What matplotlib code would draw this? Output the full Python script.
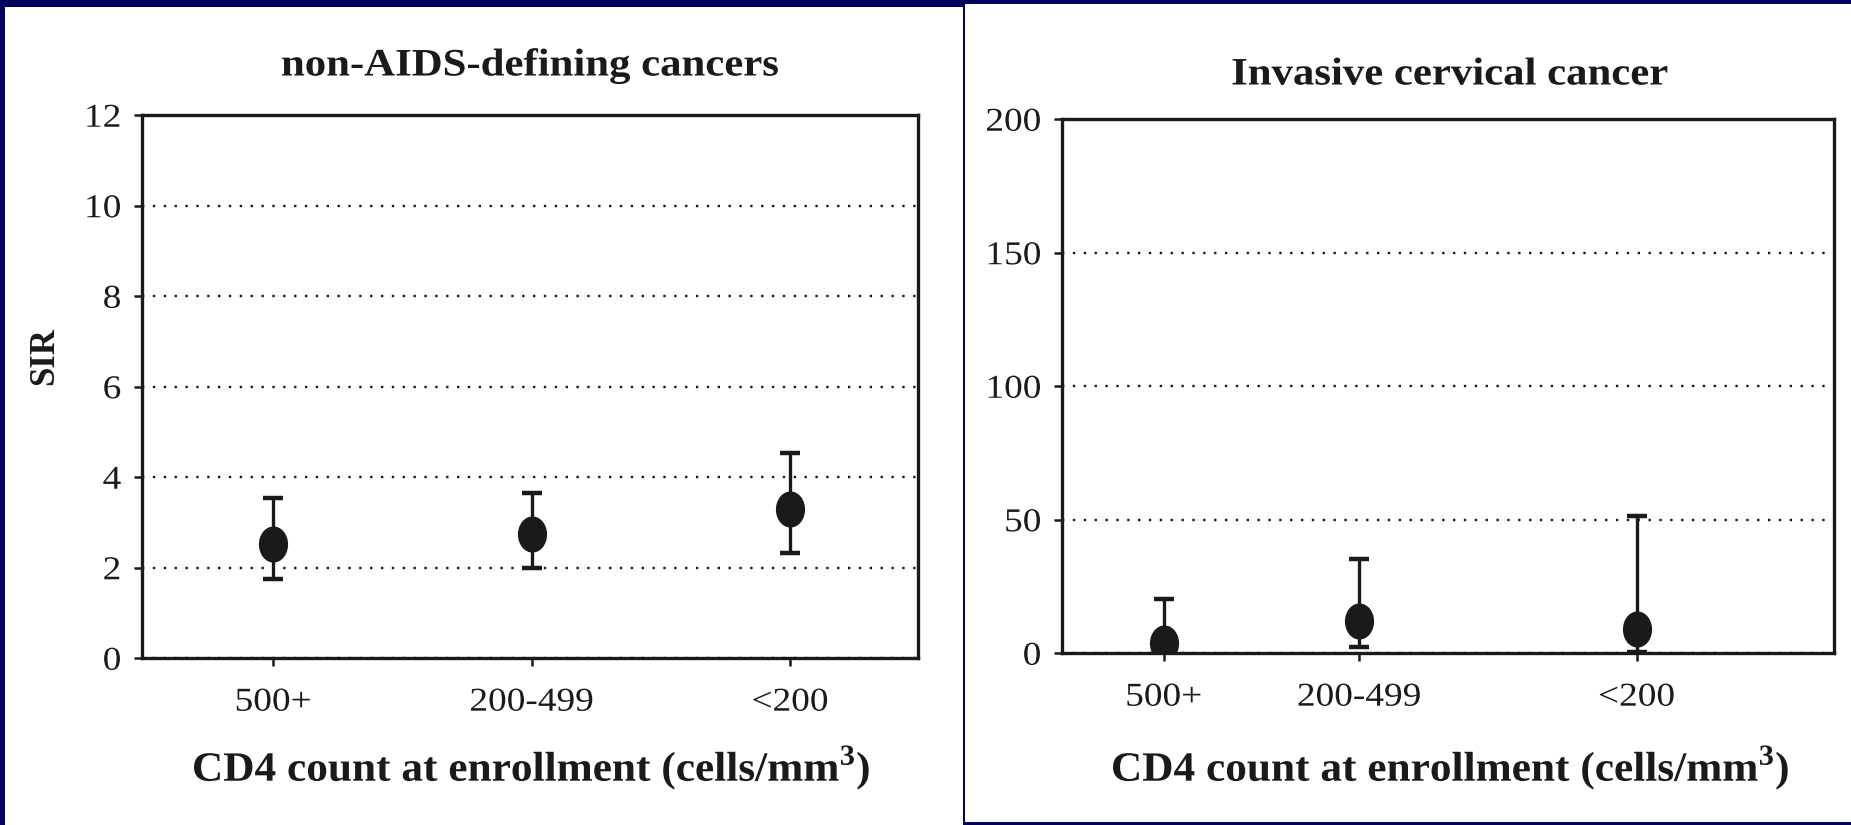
import numpy as np
import matplotlib
matplotlib.use('Agg')
import matplotlib.pyplot as plt
import matplotlib.patheffects as pe
from matplotlib.patches import Rectangle
from matplotlib.path import Path
from matplotlib.transforms import Affine2D

# -----------------------------------------------------------------------------
# Datos
# -----------------------------------------------------------------------------
categorias = ['500+', '200-499', '<200']

# non-AIDS-defining cancers
sir_nadc = [2.53, 2.73, 3.29]
inf_nadc = [1.74, 2.00, 2.31]
sup_nadc = [3.53, 3.64, 4.54]

# Invasive cervical cancer
sir_icc = [3.7, 11.9, 9.1]
inf_icc = [0.3, 2.2, 0.2]
sup_icc = [20.3, 35.2, 51.4]

ticks_nadc = [0, 2, 4, 6, 8, 10, 12]
ticks_icc = [0, 50, 100, 150, 200]

# posiciones horizontales de las categorías (la del panel derecho no es regular)
pos_nadc = [1, 2, 3]
pos_icc = [1, 2, 3.42]

AZUL = '#03035f'
NEGRO = '#1a1a1a'
FUENTE = 'Liberation Serif'

plt.rcParams['mathtext.fontset'] = 'custom'
plt.rcParams['mathtext.rm'] = FUENTE
plt.rcParams['mathtext.bf'] = FUENTE + ':bold'


# -----------------------------------------------------------------------------
# Efecto para estirar el texto en horizontal (la figura original está estirada)
# -----------------------------------------------------------------------------
class Estirar(pe.AbstractPathEffect):
    def __init__(self, sx=1.2, ancla='center'):
        super().__init__()
        self.sx = sx
        self.ancla = ancla

    def draw_path(self, renderer, gc, tpath, affine, rgbFace=None):
        ext = tpath.get_extents()
        if self.ancla == 'right':
            cx = ext.x1
        elif self.ancla == 'left':
            cx = ext.x0
        else:
            cx = 0.5 * (ext.x0 + ext.x1)
        t = Affine2D().translate(-cx, 0).scale(self.sx, 1).translate(cx, 0) + affine
        renderer.draw_path(gc, tpath, t, rgbFace)


# marcador elíptico (más alto que ancho)
circulo = Path.unit_circle()
elipse = Path(circulo.vertices * np.array([0.8, 1.0]), circulo.codes)


def dibujar_panel(ax, x, y, inf, sup, ticks, xlim):
    y = np.array(y)
    yerr = [y - np.array(inf), np.array(sup) - y]
    ax.errorbar(x, y, yerr=yerr, fmt='none', ecolor=NEGRO, elinewidth=2.4,
                capsize=7, capthick=3.2, zorder=3)
    ax.plot(x, y, linestyle='none', marker=elipse, markersize=25,
            color=NEGRO, zorder=4)
    ax.set_xlim(*xlim)
    ax.set_ylim(ticks[0], ticks[-1])
    ax.set_yticks(ticks)
    ax.set_xticks(x)
    ax.set_xticklabels(categorias)
    ax.yaxis.grid(True, linestyle=(0, (1, 3.6)), linewidth=1.7, color=NEGRO)
    ax.set_axisbelow(True)
    for s in ax.spines.values():
        s.set_linewidth(2.4)
        s.set_color(NEGRO)
    ax.tick_params(axis='both', direction='out', length=6, width=1.8,
                   color=NEGRO, labelsize=24, labelcolor=NEGRO)
    ax.tick_params(axis='y', pad=9)
    ax.tick_params(axis='x', pad=15)
    for lab in ax.get_yticklabels():
        lab.set_fontfamily(FUENTE)
        lab.set_path_effects([Estirar(1.12, 'right')])
    for lab in ax.get_xticklabels():
        lab.set_fontfamily(FUENTE)
        lab.set_path_effects([Estirar(1.12, 'center')])


fig = plt.figure(figsize=(18.51, 8.25), dpi=100)
fig.patch.set_facecolor(AZUL)

# paneles blancos
fig.add_artist(Rectangle((5 / 1851, 0), 958 / 1851, 1 - 7 / 825,
                         transform=fig.transFigure, facecolor='white',
                         edgecolor='none', zorder=0))
fig.add_artist(Rectangle((965 / 1851, 3 / 825), 886 / 1851, 818 / 825,
                         transform=fig.transFigure, facecolor='white',
                         edgecolor='none', zorder=0))

ax1 = fig.add_axes([142 / 1851, 1 - 658 / 825, 776 / 1851, 543 / 825])
ax2 = fig.add_axes([1062 / 1851, 1 - 653 / 825, 772 / 1851, 534 / 825])

dibujar_panel(ax1, pos_nadc, sir_nadc, inf_nadc, sup_nadc, ticks_nadc, (0.493, 3.495))
dibujar_panel(ax2, pos_icc, sir_icc, inf_icc, sup_icc, ticks_icc, (0.48, 4.43))

# textos
negrita = dict(fontfamily=FUENTE, fontweight='bold', color=NEGRO,
               ha='center', va='center')
etiqueta_x = r'CD4 count at enrollment (cells/mm$^{\mathbf{3}}$)'
fig.text(530 / 1851, 1 - 66 / 825, 'non-AIDS-defining cancers', fontsize=28,
         path_effects=[Estirar(1.1)], **negrita)
fig.text(1450 / 1851, 1 - 75 / 825, 'Invasive cervical cancer', fontsize=28,
         path_effects=[Estirar(1.1)], **negrita)
fig.text(531 / 1851, 1 - 768 / 825, etiqueta_x,
         fontsize=30, path_effects=[Estirar(1.04)], **negrita)
fig.text(1450 / 1851, 1 - 768 / 825, etiqueta_x,
         fontsize=30, path_effects=[Estirar(1.04)], **negrita)
fig.text(45 / 1851, 1 - 356 / 825, 'SIR', fontsize=25, rotation=90, **negrita)

fig.savefig('out.png', dpi=100, facecolor=fig.get_facecolor())
